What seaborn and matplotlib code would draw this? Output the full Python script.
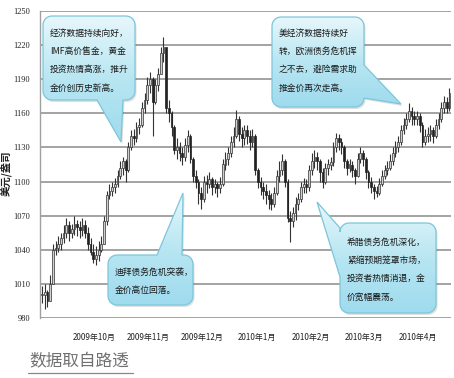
import numpy as np
import matplotlib
matplotlib.use("Agg")
import matplotlib.pyplot as plt
from matplotlib.patches import Polygon
import seaborn as sns

# daily gold price (USD/oz), Oct 2009 - Apr 2010
close = [1000, 1003, 995, 1010, 1040, 1042, 1045, 1050, 1055, 1062,
         1055, 1058, 1063, 1060, 1057, 1062, 1055, 1045, 1038, 1032,
         1035, 1040, 1045, 1065, 1088, 1092, 1095, 1098, 1105, 1112,
         1118, 1110, 1130, 1140, 1138, 1148, 1150, 1165, 1172, 1185,
         1190, 1170, 1185, 1195, 1213, 1218, 1165, 1160, 1148, 1128,
         1130, 1125, 1122, 1132, 1140, 1120, 1105, 1100, 1090, 1085,
         1100, 1098, 1102, 1095, 1098, 1094, 1098, 1115, 1120, 1125,
         1135, 1140, 1155, 1142, 1138, 1145, 1140, 1135, 1140, 1110,
         1100, 1095, 1092, 1088, 1085, 1080, 1090, 1105, 1110, 1118,
         1100, 1068, 1065, 1072, 1080, 1085, 1095, 1098, 1095, 1110,
         1118, 1122, 1118, 1108, 1100, 1112, 1115, 1117, 1130, 1138,
         1135, 1130, 1118, 1112, 1115, 1110, 1105, 1120, 1125, 1120,
         1108, 1100, 1095, 1092, 1090, 1098, 1105, 1110, 1112, 1118,
         1125, 1130, 1135, 1145, 1150, 1155, 1162, 1158, 1155, 1158,
         1150, 1135, 1140, 1142, 1145, 1140, 1150, 1155, 1165, 1170,
         1165, 1178]
high = [1008, 1010, 1005, 1018, 1045, 1048, 1052, 1055, 1062, 1068,
        1065, 1063, 1070, 1066, 1065, 1068, 1066, 1060, 1050, 1045,
        1043, 1048, 1052, 1070, 1092, 1098, 1100, 1103, 1110, 1118,
        1122, 1120, 1135, 1145, 1146, 1152, 1156, 1170, 1178, 1192,
        1196, 1192, 1190, 1200, 1218, 1227, 1212, 1172, 1162, 1150,
        1138, 1135, 1130, 1138, 1145, 1142, 1122, 1110, 1102, 1095,
        1105, 1106, 1108, 1104, 1102, 1100, 1104, 1120, 1126, 1130,
        1140, 1148, 1163, 1158, 1148, 1150, 1150, 1145, 1146, 1142,
        1112, 1104, 1100, 1098, 1093, 1090, 1095, 1110, 1118, 1124,
        1120, 1102, 1074, 1078, 1086, 1090, 1100, 1103, 1102, 1115,
        1125, 1128, 1126, 1120, 1112, 1116, 1120, 1122, 1135, 1143,
        1142, 1138, 1132, 1120, 1120, 1118, 1112, 1125, 1130, 1128,
        1122, 1110, 1104, 1098, 1096, 1103, 1110, 1115, 1118, 1124,
        1130, 1136, 1140, 1150, 1156, 1160, 1169, 1166, 1162, 1162,
        1160, 1152, 1146, 1148, 1150, 1148, 1155, 1160, 1170, 1175,
        1174, 1182]
low = [993, 988, 990, 995, 1010, 1035, 1038, 1040, 1046, 1050,
       1048, 1050, 1053, 1052, 1050, 1052, 1050, 1040, 1035, 1028,
       1027, 1030, 1038, 1045, 1062, 1085, 1087, 1090, 1095, 1102,
       1106, 1100, 1108, 1128, 1132, 1135, 1142, 1148, 1160, 1168,
       1178, 1140, 1168, 1180, 1195, 1205, 1160, 1152, 1140, 1124,
       1120, 1118, 1115, 1118, 1126, 1116, 1100, 1094, 1080, 1076,
       1082, 1090, 1094, 1088, 1090, 1086, 1090, 1096, 1110, 1115,
       1122, 1130, 1138, 1136, 1130, 1132, 1133, 1128, 1130, 1106,
       1094, 1088, 1085, 1080, 1076, 1075, 1078, 1088, 1100, 1106,
       1095, 1064, 1047, 1060, 1066, 1075, 1082, 1090, 1090, 1092,
       1106, 1112, 1110, 1100, 1094, 1098, 1106, 1110, 1114, 1126,
       1128, 1124, 1112, 1106, 1108, 1104, 1098, 1104, 1116, 1114,
       1102, 1094, 1090, 1085, 1086, 1088, 1096, 1102, 1106, 1110,
       1115, 1122, 1126, 1132, 1142, 1146, 1152, 1150, 1150, 1150,
       1144, 1130, 1132, 1135, 1136, 1134, 1138, 1146, 1152, 1160,
       1160, 1162]

month_labels = ["2009年10月", "2009年11月", "2009年12月", "2010年1月",
                "2010年2月", "2010年3月", "2010年4月"]
month_pos = [19.5, 39.5, 59.5, 79.5, 99.5, 119.5, 139.5]
price_ticks = list(range(980, 1251, 30))

notes = [
    ["经济数据持续向好，", "IMF高价售金，黄金", "投资热情高涨，推升", "金价创历史新高。"],
    ["美经济数据持续好", "转，欧洲债务危机挥", "之不去，避险需求助", "推金价再次走高。"],
    ["迪拜债务危机突袭，", "金价高位回落。"],
    ["希腊债务危机深化，", "紧缩预期笼罩市场，", "投资者热情消退，金", "价宽幅震荡。"],
]

sns.set_theme(style="white")
plt.rcParams["font.family"] = ["Noto Sans CJK SC", "DejaVu Sans"]

W, H = 454, 378
fig = plt.figure(figsize=(W / 100, H / 100), dpi=100)
fig.patch.set_facecolor("white")

ax = fig.add_axes([40 / W, 1 - 318 / H, 411 / W, 307 / H])
x = np.arange(len(close))
c = np.array(close)
o = np.concatenate([[close[0]], c[:-1]])
up = c >= o

ax.vlines(x, low, high, color="#333333", lw=0.8, zorder=3)
body_lo = np.minimum(o, c)
body_h = np.maximum(np.abs(c - o), 0.8)
ax.bar(x[up], body_h[up], bottom=body_lo[up], width=0.65,
       color="#d0d0d0", edgecolor="#333333", linewidth=0.5, zorder=4)
ax.bar(x[~up], body_h[~up], bottom=body_lo[~up], width=0.65,
       color="#222222", edgecolor="#222222", linewidth=0.5, zorder=4)

ax.set_xlim(-0.75, 151.6)
ax.set_ylim(980, 1250)
ax.set_yticks(price_ticks)
ax.set_yticklabels([str(v) for v in price_ticks], family="Liberation Serif",
                   fontsize=6.0, color="#222222")
ax.set_xticks(month_pos)
ax.set_xticklabels(month_labels, fontsize=5.8, color="#222222")
ax.tick_params(axis="both", length=0)
ax.tick_params(axis="y", pad=7)
ax.tick_params(axis="x", pad=11)
ax.yaxis.grid(True, color="#9c9c9c", lw=1.3)
ax.set_axisbelow(True)
for s in ["top", "right", "bottom"]:
    ax.spines[s].set_visible(False)
ax.spines["left"].set_color("#a0a0a0")
ax.spines["left"].set_linewidth(1.0)
ax.set_ylabel("美元/盎司", fontsize=7.5, fontweight="bold", color="#222222")
ax.yaxis.set_label_coords(-28 / 411, 0.47)

# overlay in pixel coordinates for callouts and footer
ov = fig.add_axes([0, 0, 1, 1], zorder=5)
ov.set_xlim(0, W)
ov.set_ylim(H, 0)
ov.axis("off")
ov.patch.set_visible(False)


def callout_verts(x0, y0, x1, y1, r, side, b0, b1, tip):
    pts = []

    def arc(cx, cy, a0, a1):
        for t in np.linspace(a0, a1, 8):
            pts.append((cx + r * np.cos(t), cy + r * np.sin(t)))

    arc(x0 + r, y0 + r, np.pi, 1.5 * np.pi)
    if side == "top":
        pts += [(b0, y0), tip, (b1, y0)]
    arc(x1 - r, y0 + r, 1.5 * np.pi, 2 * np.pi)
    if side == "right":
        pts += [(x1, b0), tip, (x1, b1)]
    arc(x1 - r, y1 - r, 0, 0.5 * np.pi)
    if side == "bottom":
        pts += [(b1, y1), tip, (b0, y1)]
    arc(x0 + r, y1 - r, 0.5 * np.pi, np.pi)
    if side == "left":
        pts += [(x0, b1), tip, (x0, b0)]
    return np.array(pts)


boxes = [
    ((43, 16, 135, 100), "bottom", 97, 123, (121, 142), (50, 33)),
    ((272, 17, 364, 107), "right", 65, 98, (401, 104), (279, 33)),
    ((108, 255, 193, 305), "top", 157, 182, (183, 193), (115, 272)),
    ((340, 223, 436, 313), "left", 228, 277, (317, 202), (347, 242)),
]

grad = np.linspace(0, 1, 64).reshape(-1, 1)
cmap = matplotlib.colors.LinearSegmentedColormap.from_list(
    "callout", ["#e6f7fb", "#b8e6f2", "#9fdbee"])

for (rect, side, b0, b1, tip, txt0), lines in zip(boxes, notes):
    x0, y0, x1, y1 = rect
    v = callout_verts(x0, y0, x1, y1, 9, side, b0, b1, tip)
    shadow = Polygon(v + np.array([1.5, 2.0]), closed=True, fc="#000000",
                     ec="none", alpha=0.12)
    ov.add_patch(shadow)
    shape = Polygon(v, closed=True, fc="none", ec="#7cc6da", lw=0.9, zorder=3)
    ov.add_patch(shape)
    ext_x0, ext_x1 = v[:, 0].min(), v[:, 0].max()
    ext_y0, ext_y1 = v[:, 1].min(), v[:, 1].max()
    im = ov.imshow(grad, cmap=cmap, aspect="auto", origin="upper",
                   extent=(ext_x0, ext_x1, ext_y1, ext_y0), zorder=2)
    im.set_clip_path(shape)
    tx, ty = txt0
    for k, line in enumerate(lines):
        ov.text(tx, ty + k * 18.3, line, fontsize=6.3, color="#1a1a1a",
                ha="left", va="center", zorder=4)

ov.set_xlim(0, W)
ov.set_ylim(H, 0)

ov.text(29, 362, "数据取自路透", fontsize=12, color="#707070",
        ha="left", va="center")
ov.plot([28, 133], [373, 373], color="#888888", lw=0.9)

fig.savefig("out.png", dpi=100)
